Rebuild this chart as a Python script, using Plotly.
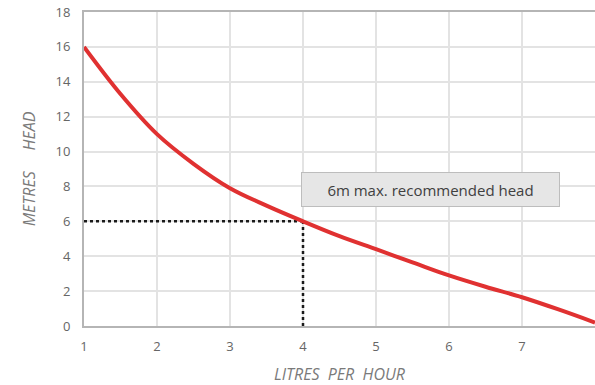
import plotly.graph_objects as go

# pump curve
flow = [1, 1.5, 2, 2.5, 3, 3.5, 4, 4.5, 5, 5.5, 6, 6.5, 7, 7.5, 8]
head = [16, 13.3, 11.0, 9.3, 7.9, 6.9, 6.0, 5.15, 4.4, 3.65, 2.9, 2.25, 1.65, 0.95, 0.2]

# recommended max head marker
max_head = 6
max_flow = 4
note = "6m max. recommended head"

fig = go.Figure()

fig.add_trace(go.Scatter(
    x=[flow[0], max_flow], y=[max_head, max_head], mode="lines",
    line=dict(color="#1a1a1a", width=2.5, dash="dot"), hoverinfo="skip",
))
fig.add_trace(go.Scatter(
    x=[max_flow, max_flow], y=[0, max_head], mode="lines",
    line=dict(color="#1a1a1a", width=2.5, dash="dot"), hoverinfo="skip",
))
fig.add_trace(go.Scatter(
    x=flow, y=head, mode="lines", line_shape="spline",
    line=dict(color="#e03131", width=4),
))

fig.add_annotation(
    x=5.75, y=7.85, text=note, showarrow=False,
    font=dict(family="Open Sans", size=15, color="#404040"),
    bgcolor="#e6e6e6", bordercolor="#bdbdbd", borderwidth=1,
    width=255, height=31,
)

fig.update_layout(
    width=595, height=385,
    margin=dict(l=84, r=0, t=12, b=59),
    plot_bgcolor="white", paper_bgcolor="white",
    showlegend=False,
    font=dict(family="Open Sans", color="#666666"),
)
fig.update_xaxes(
    range=[1, 8], dtick=1, showgrid=True, gridcolor="#e3e3e3", gridwidth=1.5,
    showline=True, linecolor="#b5b5b5", linewidth=2, mirror=True,
    zeroline=False, ticks="", automargin=False, ticklabelstandoff=7,
    tickfont=dict(size=13, color="#666666"),
    title=dict(text="LITRES\u00a0\u00a0PER\u00a0\u00a0HOUR",
               font=dict(size=16, color="#7a7a7a"), standoff=16),
)
fig.update_yaxes(
    range=[0, 18], dtick=2, showgrid=True, gridcolor="#e3e3e3", gridwidth=1.5,
    showline=True, linecolor="#b5b5b5", linewidth=2,
    zeroline=False, ticks="", ticklabelstandoff=9, automargin=False,
    tickfont=dict(size=13, color="#666666"),
    title=dict(text="METRES\u00a0\u00a0\u00a0\u00a0\u00a0HEAD",
               font=dict(size=16, color="#7a7a7a"), standoff=16),
)

for a in ("xaxis", "yaxis"):
    fig.layout[a].title.font.style = "italic"

# drop the default body margin so the figure sits flush in the window
fig.write_html(
    "out.html",
    config={"displayModeBar": False},
    post_script="document.body.style.margin='0';document.body.style.overflow='hidden';",
)
